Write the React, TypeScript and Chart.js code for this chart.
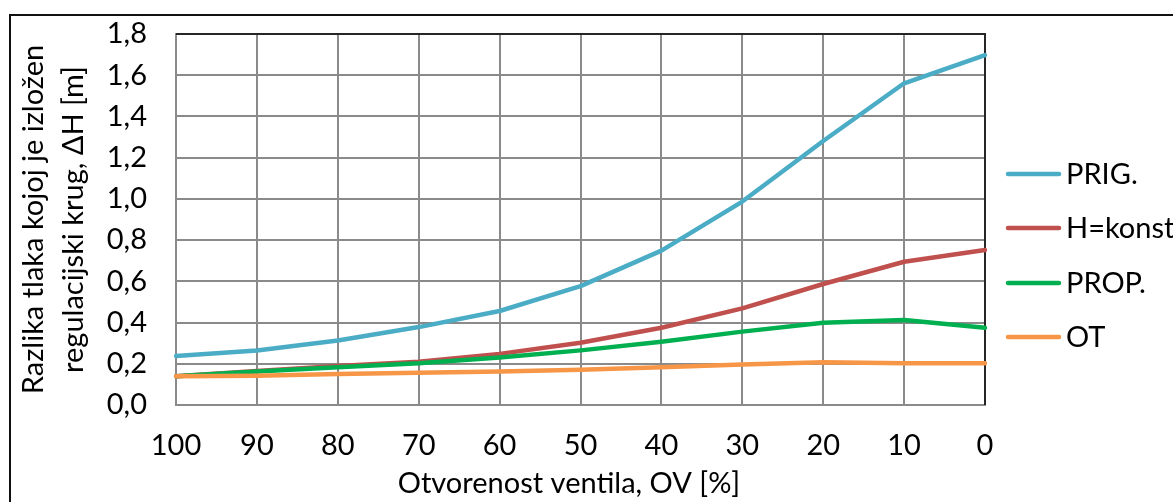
import React, { useEffect, useRef } from "react";
import { Chart, registerables } from "chart.js";

Chart.register(...registerables);

const categories = ["100", "90", "80", "70", "60", "50", "40", "30", "20", "10", "0"];
const prigValues = [0.238, 0.264, 0.313, 0.378, 0.456, 0.577, 0.749, 0.987, 1.281, 1.561, 1.698];
const hKonstValues = [0.14, 0.165, 0.189, 0.21, 0.248, 0.302, 0.375, 0.469, 0.587, 0.695, 0.752];
const propValues = [0.14, 0.162, 0.183, 0.202, 0.231, 0.265, 0.307, 0.356, 0.399, 0.412, 0.375];
const otValues = [0.14, 0.142, 0.15, 0.156, 0.162, 0.171, 0.183, 0.197, 0.207, 0.202, 0.202];
const seriesNames = ["PRIG.", "H=konst", "PROP.", "OT"];
const seriesColors = ["#4BACC6", "#C0504D", "#00B050", "#F79646"];
const xTitle = "Otvorenost ventila, OV [%]";
const yTitle = ["Razlika tlaka kojoj je izložen", "regulacijski krug, ΔH [m]"];

const FONT = "Lato";
const FS = 29;
const W = 1173;
const H = 502;

const framePlugin = {
  id: "frame",
  beforeDatasetsDraw(chart: any) {
    const { ctx, chartArea } = chart;
    ctx.save();
    ctx.strokeStyle = "#262626";
    ctx.lineWidth = 2;
    ctx.beginPath();
    ctx.moveTo(chartArea.left, chartArea.top);
    ctx.lineTo(chartArea.right, chartArea.top);
    ctx.lineTo(chartArea.right, chartArea.bottom);
    ctx.stroke();
    ctx.restore();
  },
  afterDraw(chart: any) {
    const { ctx } = chart;
    ctx.save();
    // outer border
    ctx.strokeStyle = "#111";
    ctx.lineWidth = 2;
    ctx.beginPath();
    ctx.moveTo(10, H);
    ctx.lineTo(10, 15);
    ctx.lineTo(W, 15);
    ctx.stroke();
    // x axis title
    ctx.fillStyle = "#000";
    ctx.font = `${FS}px ${FONT}`;
    ctx.textBaseline = "middle";
    ctx.textAlign = "center";
    ctx.fillText(xTitle, 569, 484);
    // legend
    const ys = [174, 228, 283, 337];
    chart.data.datasets.forEach((ds: any, i: number) => {
      ctx.strokeStyle = ds.borderColor;
      ctx.lineWidth = 4.5;
      ctx.lineCap = "round";
      ctx.beginPath();
      ctx.moveTo(1008, ys[i]);
      ctx.lineTo(1059, ys[i]);
      ctx.stroke();
      ctx.fillStyle = "#000";
      ctx.font = `${FS}px ${FONT}`;
      ctx.textBaseline = "middle";
      ctx.textAlign = "left";
      ctx.fillText(ds.label, 1066, ys[i] + 1);
    });
    ctx.restore();
  },
};

export default function App() {
  const ref = useRef<HTMLCanvasElement | null>(null);
  useEffect(() => {
    if (!ref.current) return;
    const values = [prigValues, hKonstValues, propValues, otValues];
    const chart = new Chart(ref.current, {
      type: "line",
      data: {
        labels: categories,
        datasets: seriesNames.map((name, i) => ({
          label: name,
          data: values[i],
          borderColor: seriesColors[i],
          backgroundColor: seriesColors[i],
          borderWidth: 4.5,
          pointRadius: 0,
          tension: 0,
          order: 4 - i,
          borderCapStyle: "round" as const,
          borderJoinStyle: "round" as const,
        })),
      },
      options: {
        responsive: false,
        animation: false,
        devicePixelRatio: 1,
        layout: { padding: { left: 0, right: W - 985, top: 34, bottom: 0 } },
        plugins: { legend: { display: false }, tooltip: { enabled: false } },
        scales: {
          x: {
            type: "category",
            offset: false,
            grid: {
              color: "#8a8a8a",
              lineWidth: 2,
              drawTicks: true,
              tickLength: 23,
              tickColor: "rgba(0,0,0,0)",
              offset: false,
            },
            border: { color: "#8a8a8a", width: 2 },
            ticks: {
              color: "#000",
              font: { family: FONT, size: FS },
              padding: 0,
              maxRotation: 0,
              autoSkip: false,
            },
            afterFit(scale: any) {
              scale.height = H - 405;
            },
          },
          y: {
            min: 0,
            max: 1.8,
            grid: {
              color: "#8a8a8a",
              lineWidth: 2,
              drawTicks: true,
              tickLength: 29,
              tickColor: "rgba(0,0,0,0)",
            },
            border: { color: "#8a8a8a", width: 2 },
            ticks: {
              stepSize: 0.2,
              color: "#000",
              font: { family: FONT, size: FS },
              padding: 0,
              callback: (v: any) => Number(v).toFixed(1).replace(".", ","),
            },
            title: {
              display: true,
              text: yTitle,
              color: "#000",
              font: { family: FONT, size: FS, lineHeight: 1.36 },
              padding: { top: 14, bottom: 0 },
            },
            afterFit(scale: any) {
              scale.width = 176;
            },
          },
        },
      },
      plugins: [framePlugin],
    });
    return () => chart.destroy();
  }, []);
  return (
    <canvas
      ref={ref}
      width={W}
      height={H}
      style={{ position: "absolute", left: 0, top: 0, width: W, height: H, background: "#fff" }}
    />
  );
}
